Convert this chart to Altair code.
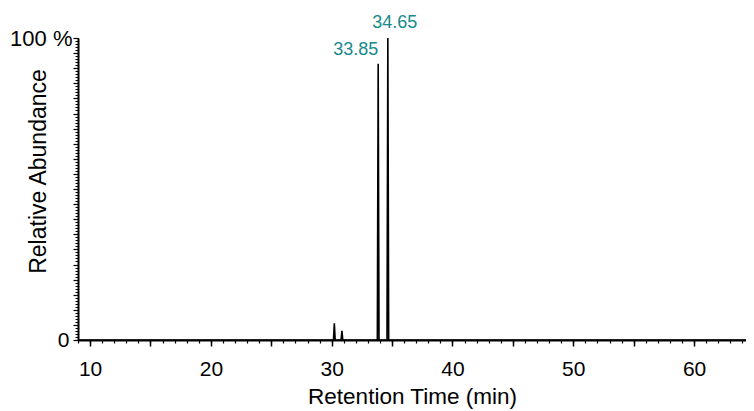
import altair as alt
import pandas as pd

# Chromatogram trace (retention time in min, relative abundance in %)
rt = [9.0, 30.15, 30.22, 30.29, 30.78, 30.85, 30.92, 33.78, 33.85, 33.92, 34.58, 34.65, 34.72, 64.3]
abundance = [0, 0, 5.5, 0, 0, 3.0, 0, 0, 91.5, 0, 0, 100, 0, 0]

# Labelled peaks
peak_rt = [33.85, 34.65]
peak_ab = [91.5, 100]
peak_text = ["33.85", "34.65"]

x_major = list(range(10, 65, 5))
x_minor = list(range(9, 65))
y_major = list(range(0, 101, 5))
y_minor = list(range(0, 101))

trace = pd.DataFrame({"rt": rt, "ab": abundance})
peaks = pd.DataFrame({"rt": peak_rt, "ab": peak_ab, "label": peak_text})

FONT = "Liberation Sans"
TEAL = "#17898a"
X_DOMAIN = [9, 64.3]
Y_DOMAIN = [0, 100]


def xs():
    return alt.Scale(domain=X_DOMAIN, nice=False, zero=False)


def ys():
    return alt.Scale(domain=Y_DOMAIN, nice=False)


common = dict(grid=False, tickColor="black", domainColor="black", labelFont=FONT,
              labelColor="black", labelFlush=False, labelOverlap=False)

x_axis_main = alt.Axis(
    orient="bottom", values=x_major,
    labelExpr="datum.value % 10 === 0 ? datum.label : ''",
    tickSize=6, tickWidth=1.5, domainWidth=2,
    labelFontSize=21, labelPadding=12,
    title="Retention Time (min)", titleFont=FONT, titleFontSize=22.5,
    titleFontWeight="normal", titleColor="black", titlePadding=6,
    **common,
)
y_axis_main = alt.Axis(
    orient="left", values=y_major,
    labelExpr="datum.value === 0 ? '0' : ''",
    tickSize=5, tickWidth=1.2, domainWidth=2,
    labelFontSize=21, labelPadding=4, labelBaseline="middle",
    title="Relative Abundance", titleFont=FONT, titleFontSize=23,
    titleFontWeight="normal", titleColor="black",
    titleAngle=-90, titleX=-40, titleY=133, titleAlign="center", titleBaseline="middle",
    **common,
)
x_axis_minor = alt.Axis(
    orient="bottom", values=x_minor, labels=False, title=None,
    tickSize=3, tickWidth=1.2, domain=False, grid=False, tickColor="black",
)
y_axis_minor = alt.Axis(
    orient="left", values=y_minor,
    labelExpr="datum.value === 100 ? '100 %' : ''",
    tickSize=3, tickWidth=1.0, domain=False,
    labelFontSize=22, labelPadding=3, labelBaseline="middle", title=None,
    **common,
)

line = alt.Chart(trace).mark_line(color="black", strokeWidth=1.6).encode(
    x=alt.X("rt:Q", scale=xs(), axis=x_axis_main),
    y=alt.Y("ab:Q", scale=ys(), axis=y_axis_main),
)

ticks_layer = alt.Chart(trace).mark_line(opacity=0).encode(
    x=alt.X("rt:Q", scale=xs(), axis=x_axis_minor),
    y=alt.Y("ab:Q", scale=ys(), axis=y_axis_minor),
)

lab1 = alt.Chart(peaks).transform_filter(alt.datum.label == "33.85").mark_text(
    align="right", baseline="alphabetic", dx=0, dy=-9, font=FONT, fontSize=18, color=TEAL
).encode(
    x=alt.X("rt:Q", scale=xs(), axis=None),
    y=alt.Y("ab:Q", scale=ys(), axis=None),
    text="label:N",
)

lab2 = alt.Chart(peaks).transform_filter(alt.datum.label == "34.65").mark_text(
    align="center", baseline="alphabetic", dx=7, dy=-10, font=FONT, fontSize=18, color=TEAL
).encode(
    x=alt.X("rt:Q", scale=xs(), axis=None),
    y=alt.Y("ab:Q", scale=ys(), axis=None),
    text="label:N",
)

chart = (
    alt.layer(ticks_layer, line, lab1, lab2)
    .resolve_scale(x="independent", y="independent")
    .properties(
        width=668,
        height=302,
        autosize=alt.AutoSizeParams(type="none"),
        padding={"left": 70, "top": 30, "right": 0, "bottom": 70},
        background="white",
    )
    .configure_view(stroke=None)
)

chart.save("out.html", embed_options={"renderer": "svg", "actions": False})
